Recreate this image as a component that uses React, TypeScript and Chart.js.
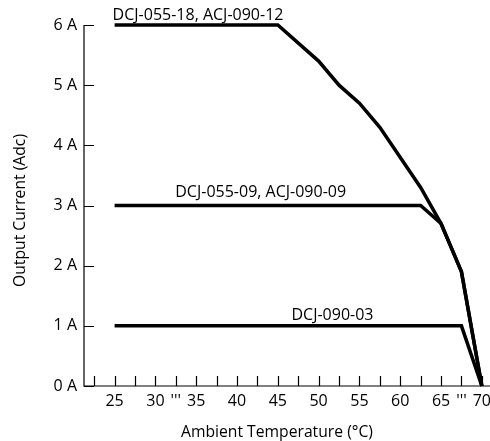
import React, { useEffect, useRef } from "react";
import { Chart, registerables } from "chart.js";

Chart.register(...registerables);

// ---- Data ----
const seriesNames = ["DCJ-055-18, ACJ-090-12", "DCJ-055-09, ACJ-090-09", "DCJ-090-03"];
const temps1 = [25, 45, 50, 52.5, 55, 57.5, 62.5, 65, 67.5, 70];
const amps1 = [6, 6, 5.4, 5.0, 4.7, 4.3, 3.3, 2.7, 1.9, 0];
const temps2 = [25, 62.5, 65, 67.5, 70];
const amps2 = [3, 3, 2.7, 1.9, 0];
const temps3 = [25, 67.5, 70];
const amps3 = [1, 1, 0];

const xTickValues = [22.5, 25, 27.5, 30, 32.5, 35, 37.5, 40, 42.5, 45, 47.5, 50, 52.5, 55, 57.5, 60, 62.5, 65, 67.5, 70];
const xTickLabels = ["", "25", "", "30", "'''", "35", "", "40", "", "45", "", "50", "", "55", "", "60", "", "65", "'''", "70"];
const yTickValues = [0, 1, 2, 3, 4, 5, 6];
const yTickLabels = ["0 A", "1 A", "2 A", "3 A", "4 A", "5 A", "6 A"];

const xTitle = "Ambient Temperature (°C)";
const yTitle = "Output Current (Adc)";

// label anchors (in data units) for the curve names
const labelAnchors = [
  { x: 25, y: 6, align: "left", dx: -2, dy: -5 },
  { x: 42.9, y: 3, align: "center", dx: 0, dy: -9 },
  { x: 51.7, y: 1, align: "center", dx: 0, dy: -6 },
];

const FONT = "'Open Sans', sans-serif";

const toPoints = (xs: number[], ys: number[]) => xs.map((x, i) => ({ x, y: ys[i] }));

const decorPlugin = {
  id: "decor",
  afterDraw(chart: any) {
    const { ctx, chartArea, scales } = chart;
    const xs = scales.x;
    const ys = scales.y;
    ctx.save();
    ctx.strokeStyle = "#000";
    ctx.lineWidth = 1.2;
    // axis lines
    ctx.beginPath();
    ctx.moveTo(chartArea.left, ys.getPixelForValue(6));
    ctx.lineTo(chartArea.left, chartArea.bottom);
    ctx.lineTo(chartArea.right, chartArea.bottom);
    ctx.stroke();
    // inward ticks
    ctx.beginPath();
    xTickValues.forEach((v) => {
      const px = Math.round(xs.getPixelForValue(v)) + 0.5;
      ctx.moveTo(px, chartArea.bottom);
      ctx.lineTo(px, chartArea.bottom - 10);
    });
    yTickValues.forEach((v) => {
      const py = Math.round(ys.getPixelForValue(v)) + 0.5;
      ctx.moveTo(chartArea.left, py);
      ctx.lineTo(chartArea.left + 10, py);
    });
    ctx.stroke();

    // series labels
    ctx.fillStyle = "#000";
    ctx.font = `16px ${FONT}`;
    ctx.textBaseline = "alphabetic";
    labelAnchors.forEach((a, i) => {
      ctx.textAlign = a.align as CanvasTextAlign;
      ctx.fillText(seriesNames[i], xs.getPixelForValue(a.x) + a.dx, ys.getPixelForValue(a.y) + a.dy);
    });

    // axis titles
    ctx.font = `15.7px ${FONT}`;
    ctx.textAlign = "center";
    ctx.textBaseline = "middle";
    ctx.fillText(xTitle, (chartArea.left + chartArea.right) / 2 - 10, chart.height - 8);
    ctx.save();
    ctx.translate(21, (chartArea.top + chartArea.bottom) / 2 + 5);
    ctx.rotate(-Math.PI / 2);
    ctx.fillText(yTitle, 0, 0);
    ctx.restore();
    ctx.restore();
  },
};

export default function App() {
  const ref = useRef<HTMLCanvasElement | null>(null);
  useEffect(() => {
    if (!ref.current) return;
    Chart.defaults.font.family = FONT;
    Chart.defaults.color = "#000";
    const lineStyle = {
      borderColor: "#000",
      borderWidth: 3.5,
      pointRadius: 0,
      tension: 0,
      fill: false,
      clip: false as any,
      borderJoinStyle: "miter" as const,
    };
    const chart = new Chart(ref.current, {
      type: "line",
      data: {
        datasets: [
          { label: seriesNames[0], data: toPoints(temps1, amps1), ...lineStyle },
          { label: seriesNames[1], data: toPoints(temps2, amps2), ...lineStyle },
          { label: seriesNames[2], data: toPoints(temps3, amps3), ...lineStyle },
        ],
      },
      options: {
        animation: false,
        responsive: true,
        maintainAspectRatio: false,
        layout: { padding: { top: 25, right: 0, left: 0, bottom: 0 }, autoPadding: false },
        plugins: { legend: { display: false }, tooltip: { enabled: false } },
        scales: {
          x: {
            type: "linear",
            min: 21.25,
            max: 71,
            grid: { display: false, drawTicks: false },
            border: { display: false },
            afterBuildTicks: (s: any) => {
              s.ticks = xTickValues.map((v) => ({ value: v }));
            },
            afterFit: (s: any) => {
              s.height = 55;
              s.paddingLeft = 0;
              s.paddingRight = 0;
            },
            ticks: {
              autoSkip: false,
              maxRotation: 0,
              padding: 6,
              font: { size: 16, family: FONT },
              color: "#000",
              callback: (v: any) => {
                const i = xTickValues.indexOf(Number(v));
                return i >= 0 ? xTickLabels[i] : "";
              },
            },
          },
          y: {
            type: "linear",
            min: 0,
            max: 6,
            grid: { display: false, drawTicks: false },
            border: { display: false },
            afterBuildTicks: (s: any) => {
              s.ticks = yTickValues.map((v) => ({ value: v }));
            },
            afterFit: (s: any) => {
              s.width = 84;
              s.paddingTop = 0;
              s.paddingBottom = 0;
            },
            ticks: {
              padding: 7,
              font: { size: 16, family: FONT },
              color: "#000",
              callback: (v: any) => {
                const i = yTickValues.indexOf(Number(v));
                return i >= 0 ? yTickLabels[i] : "";
              },
            },
          },
        },
      },
      plugins: [decorPlugin],
    });
    return () => chart.destroy();
  }, []);
  return (
    <div style={{ position: "absolute", left: 0, top: 0, width: 490, height: 441, background: "#fff" }}>
      <canvas ref={ref} />
    </div>
  );
}
